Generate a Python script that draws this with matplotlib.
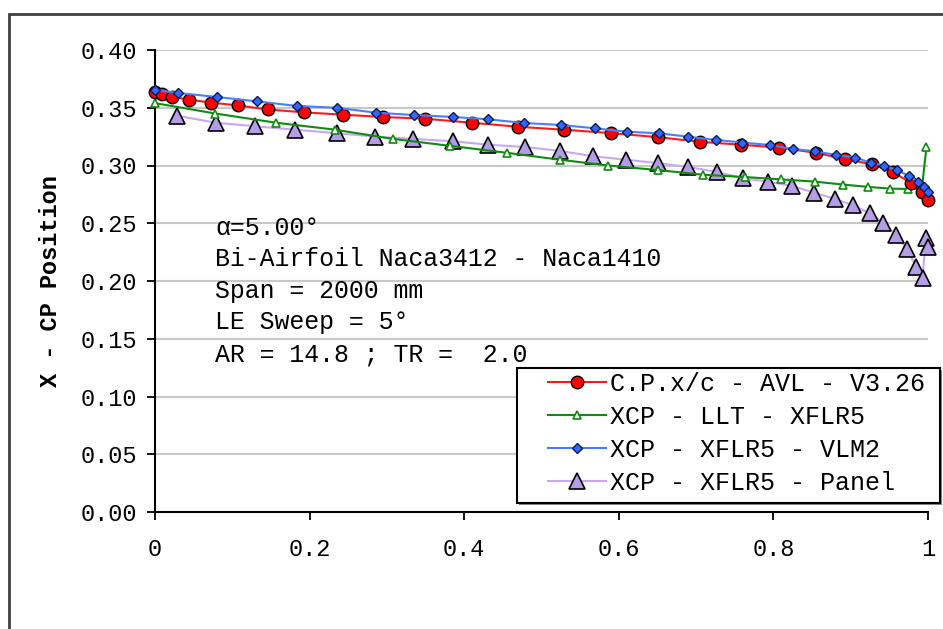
import matplotlib
matplotlib.use("Agg")
import matplotlib.pyplot as plt
from matplotlib.patches import Rectangle
from matplotlib.ticker import FixedLocator

# ---- data ----
avl_x = [0.000, 0.009, 0.022, 0.044, 0.072, 0.107, 0.146, 0.193, 0.243, 0.295,
         0.349, 0.410, 0.470, 0.529, 0.590, 0.651, 0.705, 0.758, 0.807, 0.855,
         0.893, 0.928, 0.955, 0.978, 0.992, 1.000]
avl_y = [0.3640, 0.3620, 0.3595, 0.3570, 0.3545, 0.3520, 0.3485, 0.3460, 0.3440, 0.3420,
         0.3405, 0.3370, 0.3335, 0.3310, 0.3280, 0.3245, 0.3205, 0.3180, 0.3155, 0.3110,
         0.3055, 0.3010, 0.2940, 0.2850, 0.2770, 0.2700]

llt_x = [0.000, 0.078, 0.157, 0.233, 0.308, 0.382, 0.455, 0.524, 0.586, 0.651,
         0.709, 0.763, 0.810, 0.854, 0.890, 0.922, 0.951, 0.974, 0.992, 0.998]
llt_y = [0.3540, 0.3450, 0.3370, 0.3310, 0.3230, 0.3170, 0.3110, 0.3050, 0.3000, 0.2960,
         0.2920, 0.2900, 0.2880, 0.2860, 0.2835, 0.2815, 0.2800, 0.2797, 0.2800, 0.3160]

vlm_x = [0.000, 0.030, 0.080, 0.132, 0.184, 0.235, 0.286, 0.335, 0.386, 0.431,
         0.477, 0.525, 0.569, 0.611, 0.652, 0.690, 0.726, 0.760, 0.796, 0.825,
         0.854, 0.881, 0.906, 0.926, 0.943, 0.960, 0.975, 0.987, 0.995, 1.000]
vlm_y = [0.3654, 0.3628, 0.3593, 0.3555, 0.3515, 0.3500, 0.3457, 0.3437, 0.3420, 0.3400,
         0.3368, 0.3351, 0.3322, 0.3292, 0.3279, 0.3249, 0.3221, 0.3199, 0.3177, 0.3143,
         0.3123, 0.3091, 0.3069, 0.3024, 0.3000, 0.2957, 0.2913, 0.2861, 0.2814, 0.2773]

pan_x = [0.029, 0.079, 0.129, 0.181, 0.235, 0.285, 0.334, 0.385, 0.431, 0.479,
         0.524, 0.567, 0.609, 0.651, 0.690, 0.727, 0.761, 0.793, 0.824, 0.852,
         0.880, 0.903, 0.925, 0.942, 0.959, 0.973, 0.985, 0.993, 0.997, 1.000]
pan_y = [0.3430, 0.3370, 0.3340, 0.3310, 0.3280, 0.3250, 0.3230, 0.3210, 0.3180, 0.3160,
         0.3126, 0.3080, 0.3050, 0.3020, 0.2987, 0.2944, 0.2889, 0.2860, 0.2823, 0.2766,
         0.2710, 0.2654, 0.2586, 0.2502, 0.2400, 0.2277, 0.2117, 0.2030, 0.2370, 0.2294]

series_labels = ["C.P.x/c - AVL - V3.26", "XCP - LLT - XFLR5",
                 "XCP - XFLR5 - VLM2", "XCP - XFLR5 - Panel"]
x_ticks = [0, 0.2, 0.4, 0.6, 0.8, 1.0]
x_ticklabels = ["0", "0.2", "0.4", "0.6", "0.8", "1"]
y_ticks = [0.00, 0.05, 0.10, 0.15, 0.20, 0.25, 0.30, 0.35, 0.40]
y_ticklabels = ["%.2f" % v for v in y_ticks]
info_lines = ["\u03b1=5.00\u00b0", "Bi-Airfoil Naca3412 - Naca1410",
              "Span = 2000 mm", "LE Sweep = 5\u00b0", "AR = 14.8 ; TR =  2.0"]

# ---- figure ----
plt.rcParams['font.family'] = ['Liberation Mono', 'DejaVu Sans Mono']
W, H = 943, 629
fig = plt.figure(figsize=(W / 100, H / 100), dpi=100)
fig.patch.set_facecolor("white")

# outer chart-area border (left and top visible)
fig.add_artist(Rectangle((9 / W, -0.05), 1.2, 1 - 14 / H + 0.05,
                         transform=fig.transFigure, fill=False,
                         edgecolor="#404040", lw=2.0))

ax = fig.add_axes([155 / W, 1 - 512 / H, (928 - 155) / W, (512 - 50) / H])
ax.set_xlim(0, 1)
ax.set_ylim(0, 0.40)

for s in ["top", "right"]:
    ax.spines[s].set_visible(False)
for s in ["left", "bottom"]:
    ax.spines[s].set_color("black")
    ax.spines[s].set_linewidth(1.5)

ax.yaxis.set_major_locator(FixedLocator(y_ticks))
ax.set_yticklabels(y_ticklabels)
ax.xaxis.set_major_locator(FixedLocator(x_ticks))
ax.set_xticklabels(x_ticklabels)
ax.tick_params(axis="y", direction="out", length=6, width=1.3, pad=7, labelsize=17)
ax.tick_params(axis="x", direction="out", length=6, width=1.3, pad=13, labelsize=17)

for yv in y_ticks[1:]:
    ax.axhline(yv, color="#c8c8c8", lw=1.5, zorder=0.5)

ax.set_ylabel("X - CP Position", fontsize=17, fontweight="bold", labelpad=13)

ax.plot(pan_x, pan_y, color="#c9a8f0", lw=1.5, marker="^", markersize=11,
        markerfacecolor="#b49ce6", markeredgecolor="black", markeredgewidth=1.2,
        label=series_labels[3], zorder=2, clip_on=False)
ax.plot(llt_x, llt_y, color="#118a11", lw=1.5, marker="^", markersize=6,
        markerfacecolor="white", markeredgecolor="#118a11", markeredgewidth=1.2,
        label=series_labels[1], zorder=3, clip_on=False)
ax.plot(avl_x, avl_y, color="#ff1a1a", lw=1.5, marker="o", markersize=9,
        markerfacecolor="#ff0000", markeredgecolor="black", markeredgewidth=1.0,
        label=series_labels[0], zorder=4, clip_on=False)
ax.plot(vlm_x, vlm_y, color="#4a7dff", lw=1.5, marker="D", markersize=5,
        markerfacecolor="#3366ff", markeredgecolor="#0a1a50", markeredgewidth=1.0,
        label=series_labels[2], zorder=5, clip_on=False)

for i, t in enumerate(info_lines):
    fig.text(215 / W, 1 - (228 + i * 31.5) / H, t, fontsize=17.9,
             va="center", ha="left")

# legend frame (drawn separately for Excel-like padding) with slight shadow
fig.add_artist(Rectangle((519 / W, 1 - 505 / H), (940 - 517) / W, (503 - 368) / H,
                         transform=fig.transFigure, facecolor="#888888",
                         edgecolor="none", zorder=5))
fig.add_artist(Rectangle((517 / W, 1 - 503 / H), (940 - 517) / W, (503 - 368) / H,
                         transform=fig.transFigure, facecolor="white",
                         edgecolor="black", lw=1.5, zorder=6))

handles, labels = ax.get_legend_handles_labels()
order = [labels.index(l) for l in series_labels]
leg = fig.legend([handles[i] for i in order], [labels[i] for i in order],
                 loc="upper left", bbox_to_anchor=(548 / W, 1 - 372 / H),
                 bbox_transform=fig.transFigure, fontsize=18, numpoints=1,
                 handlelength=2.3, handletextpad=0.2, labelspacing=0.36,
                 borderpad=0.0, borderaxespad=0.0, frameon=False)
leg.set_zorder(7)

fig.savefig("out.png", dpi=100)
